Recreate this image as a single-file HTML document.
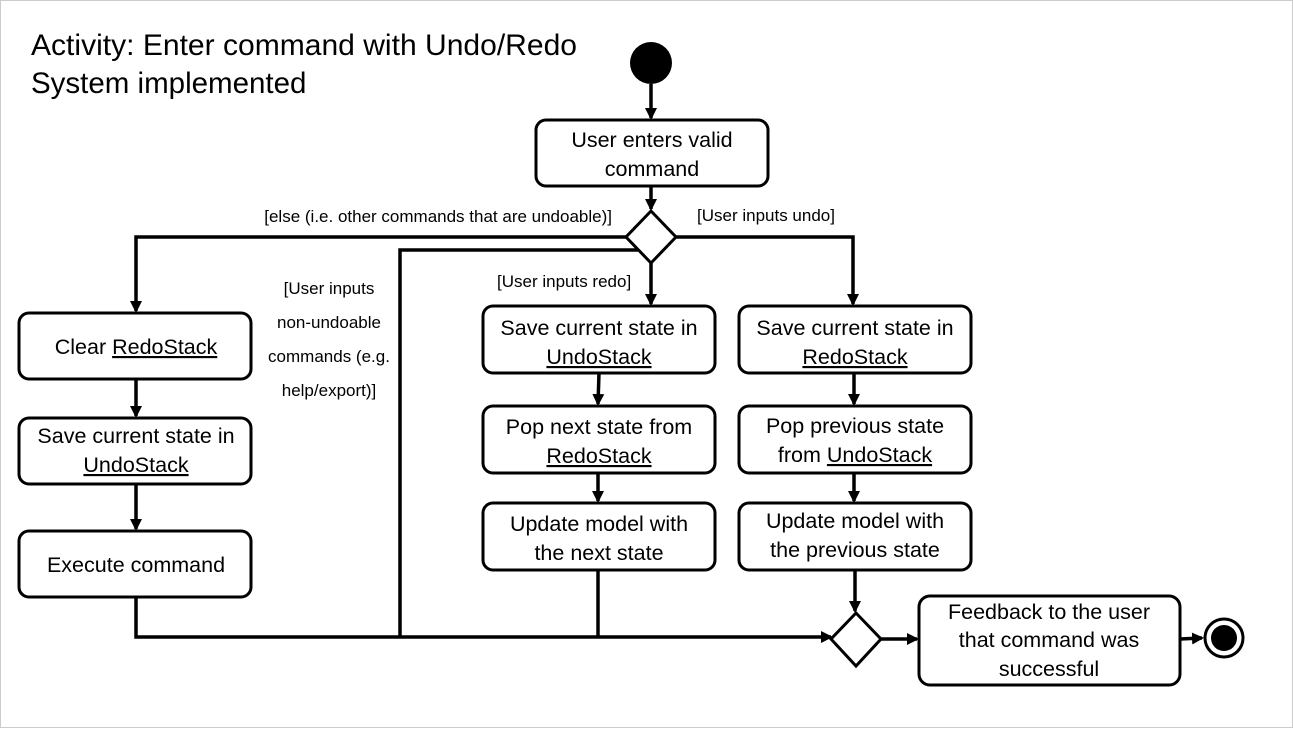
<!DOCTYPE html>
<html><head><meta charset="utf-8"><style>
body{margin:0;background:#fff;}
svg{display:block;font-family:"Liberation Sans",sans-serif;}
.b{fill:#fff;stroke:#000;stroke-width:3;}
.l{stroke:#000;stroke-width:3.5;fill:none;}
.t{font-size:21.5px;text-anchor:middle;}
.s{font-size:17px;}
.u{text-decoration:underline;}
</style></head><body>
<svg width="1293" height="729" viewBox="0 0 1293 729">
<defs><marker id="a" markerWidth="13" markerHeight="13" refX="10" refY="6" orient="auto" markerUnits="userSpaceOnUse"><path d="M0,0 L12,6 L0,12z" fill="#000"/></marker></defs>
<rect x="0.5" y="0.5" width="1292" height="727" fill="none" stroke="#ccc"/>
<text x="31" y="55" font-size="29.5" textLength="546" lengthAdjust="spacingAndGlyphs">Activity: Enter command with Undo/Redo</text>
<text x="31" y="93" font-size="29.5">System implemented</text>
<circle cx="651" cy="63" r="21"/>
<line class="l" x1="651" y1="84" x2="651" y2="118" marker-end="url(#a)"/>
<rect class="b" x="536" y="120" width="232" height="66" rx="10"/>
<text class="t" x="652" y="147">User enters valid</text>
<text class="t" x="652" y="176">command</text>
<line class="l" x1="651" y1="186" x2="651" y2="209" marker-end="url(#a)"/>
<polygon class="b" points="651,211 676,237 651,263 626,237"/>
<text class="s" x="612" y="222" text-anchor="end">[else (i.e. other commands that are undoable)]</text>
<text class="s" x="697" y="221">[User inputs undo]</text>
<text class="s" x="497" y="287">[User inputs redo]</text>
<text class="s" x="329" y="294" text-anchor="middle">[User inputs</text>
<text class="s" x="329" y="328" text-anchor="middle">non-undoable</text>
<text class="s" x="329" y="362" text-anchor="middle">commands (e.g.</text>
<text class="s" x="329" y="396" text-anchor="middle">help/export)]</text>
<polyline class="l" points="626,237 136,237 136,311" marker-end="url(#a)"/>
<polyline class="l" points="676,237 853,237 853,304" marker-end="url(#a)"/>
<line class="l" x1="651" y1="263" x2="651" y2="304" marker-end="url(#a)"/>
<polyline class="l" points="638,250 400,250 400,637"/>
<rect class="b" x="19" y="313" width="232" height="66" rx="10"/>
<text class="t" x="136" y="354">Clear <tspan class="u">RedoStack</tspan></text>
<line class="l" x1="136" y1="379" x2="136" y2="416" marker-end="url(#a)"/>
<rect class="b" x="19" y="418" width="232" height="66" rx="10"/>
<text class="t" x="136" y="443">Save current state in</text>
<text class="t" x="136" y="472"><tspan class="u">UndoStack</tspan></text>
<line class="l" x1="136" y1="484" x2="136" y2="529" marker-end="url(#a)"/>
<rect class="b" x="19" y="531" width="232" height="66" rx="10"/>
<text class="t" x="136" y="572">Execute command</text>
<polyline class="l" points="136,597 136,637 831,637" marker-end="url(#a)"/>
<rect class="b" x="483" y="306" width="232" height="67" rx="10"/>
<text class="t" x="599" y="335">Save current state in</text>
<text class="t" x="599" y="364"><tspan class="u">UndoStack</tspan></text>
<line class="l" x1="599" y1="373" x2="598" y2="404" marker-end="url(#a)"/>
<rect class="b" x="483" y="406" width="232" height="67" rx="10"/>
<text class="t" x="599" y="434">Pop next state from</text>
<text class="t" x="599" y="463"><tspan class="u">RedoStack</tspan></text>
<line class="l" x1="598" y1="473" x2="598" y2="501" marker-end="url(#a)"/>
<rect class="b" x="483" y="503" width="232" height="67" rx="10"/>
<text class="t" x="599" y="531">Update model with</text>
<text class="t" x="599" y="560">the next state</text>
<line class="l" x1="598" y1="570" x2="598" y2="637"/>
<rect class="b" x="739" y="306" width="232" height="67" rx="10"/>
<text class="t" x="855" y="335">Save current state in</text>
<text class="t" x="855" y="364"><tspan class="u">RedoStack</tspan></text>
<line class="l" x1="854" y1="373" x2="854" y2="404" marker-end="url(#a)"/>
<rect class="b" x="739" y="406" width="232" height="67" rx="10"/>
<text class="t" x="855" y="433">Pop previous state</text>
<text class="t" x="855" y="462">from <tspan class="u">UndoStack</tspan></text>
<line class="l" x1="854" y1="473" x2="854" y2="501" marker-end="url(#a)"/>
<rect class="b" x="739" y="503" width="232" height="67" rx="10"/>
<text class="t" x="855" y="528">Update model with</text>
<text class="t" x="855" y="557">the previous state</text>
<line class="l" x1="855" y1="570" x2="855" y2="611" marker-end="url(#a)"/>
<polygon class="b" points="856,613 881,639 856,666 831,639"/>
<line class="l" x1="881" y1="639" x2="917" y2="639" marker-end="url(#a)"/>
<rect class="b" x="919" y="596" width="261" height="89" rx="11"/>
<text class="t" x="1049" y="619">Feedback to the user</text>
<text class="t" x="1049" y="647">that command was</text>
<text class="t" x="1049" y="676">successful</text>
<line class="l" x1="1180" y1="639" x2="1202" y2="638" marker-end="url(#a)"/>
<circle cx="1224" cy="638" r="19" fill="#fff" stroke="#000" stroke-width="3"/>
<circle cx="1224" cy="638" r="13"/>
</svg>
</body></html>
